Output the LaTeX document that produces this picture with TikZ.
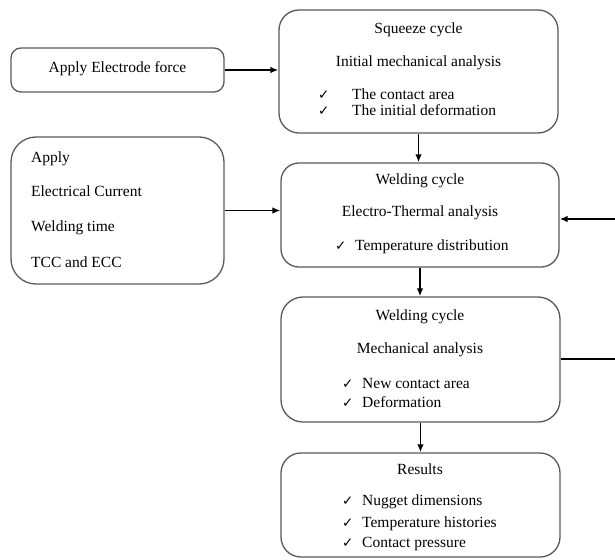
\documentclass[tikz,border=0pt]{standalone}
\usepackage{fontspec}
\setmainfont{Liberation Serif}
\newfontfamily\symfont{DejaVu Sans}
\usetikzlibrary{arrows.meta}
\newcommand{\ck}{{\symfont\fontsize{13.5}{15}\selectfont ✓}}
\begin{document}
\begin{tikzpicture}[x=1pt,y=-1pt,
  box/.style={draw=black!65,line width=1.3pt,inner sep=0pt},
  txt/.style={font=\fontsize{15.5}{18}\selectfont,inner sep=0pt,text height=1.5ex,text depth=0.25ex},
  lt/.style={txt,anchor=west},
  arr/.style={line width=1.6pt,-{Latex[length=8pt,width=6.5pt]}},
  ln/.style={line width=1.6pt}]
\useasboundingbox (0,0) rectangle (615,559);
% boxes
\node[box,rounded corners=10pt,minimum width=213pt,minimum height=44pt] (force) at (117.5,70) {};
\node[box,rounded corners=20pt,minimum width=279pt,minimum height=123pt] (squeeze) at (418.5,71.5) {};
\node[box,rounded corners=25pt,minimum width=213pt,minimum height=147pt] (inputs) at (117.5,210.5) {};
\node[box,rounded corners=18pt,minimum width=278pt,minimum height=104pt] (weld) at (420,215) {};
\node[box,rounded corners=22pt,minimum width=279pt,minimum height=125pt] (mech) at (420.5,359.5) {};
\node[box,rounded corners=20pt,minimum width=279pt,minimum height=104pt] (res) at (420.5,505) {};
% texts
\node[txt] (t1) at (force.center) {Apply Electrode force};
\node[txt] (t2) at (418.5,31) {Squeeze cycle};
\node[txt] (t3) at (418.5,64) {Initial mechanical analysis};
\node[lt] (c1) at (318,97) {\ck};
\node[lt] (t4) at (352,97) {The contact area};
\node[lt] (c2) at (318,113) {\ck};
\node[lt] (t5) at (352,113) {The initial deformation};
\node[lt] (t6) at (31,160) {Apply};
\node[lt] (t7) at (31,194) {Electrical Current};
\node[lt] (t8) at (31,229) {Welding time};
\node[lt] (t9) at (31,265) {TCC and ECC};
\node[txt] (t10) at (420,182) {Welding cycle};
\node[txt] (t11) at (420,214) {Electro-Thermal analysis};
\node[lt] (c3) at (335,248) {\ck};
\node[lt] (t12) at (355,248) {Temperature distribution};
\node[txt] (t13) at (420,318) {Welding cycle};
\node[txt] (t14) at (420,351) {Mechanical analysis};
\node[lt] (c4) at (342,386) {\ck};
\node[lt] (t15) at (362,386) {New contact area};
\node[lt] (c5) at (342,405) {\ck};
\node[lt] (t16) at (362,405) {Deformation};
\node[txt] (t17) at (420,472) {Results};
\node[lt] (c6) at (342,503) {\ck};
\node[lt] (t18) at (362,503) {Nugget dimensions};
\node[lt] (c7) at (342,525) {\ck};
\node[lt] (t19) at (362,525) {Temperature histories};
\node[lt] (c8) at (342,545) {\ck};
\node[lt] (t20) at (362,545) {Contact pressure};
% connectors
\draw[arr] (force.east) -- (force.east -| squeeze.west);
\draw[arr] (inputs.east) -- (inputs.east -| weld.west);
\draw[arr] (squeeze.south) -- (squeeze.south |- weld.north);
\draw[arr] (weld.south) -- (weld.south |- mech.north);
\draw[arr] (mech.south) -- (mech.south |- res.north);
\coordinate (rin) at (615,219);
\coordinate (rout) at (615,359);
\draw[arr] (rin) -- (rin -| weld.east);
\draw[ln] (rout -| mech.east) -- (rout);
\end{tikzpicture}
\end{document}
